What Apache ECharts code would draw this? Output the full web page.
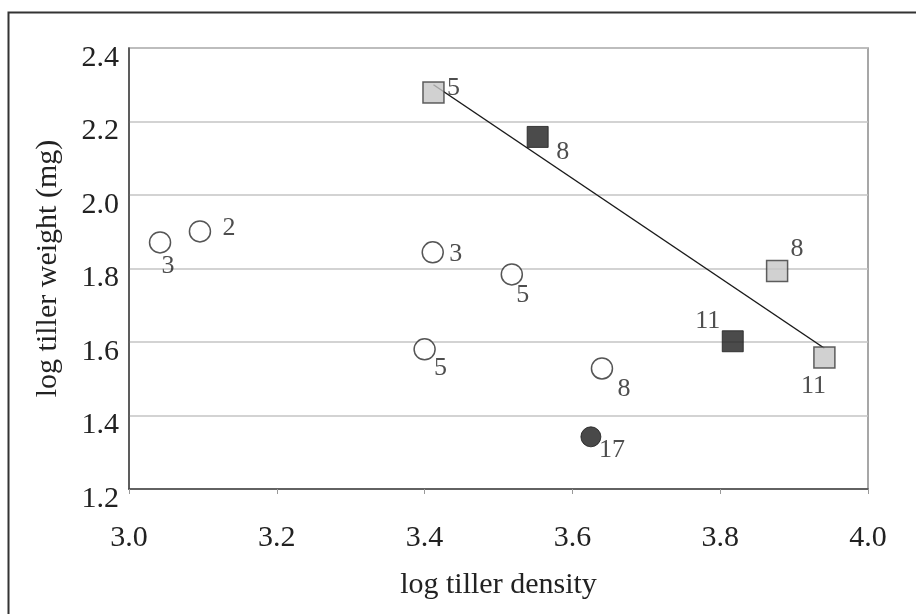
<!DOCTYPE html>
<html><head><meta charset="utf-8">
<script src="https://cdn.jsdelivr.net/npm/echarts@6/dist/echarts.min.js"></script>
<style>html,body{margin:0;padding:0;background:#fff}#c{width:916px;height:614px}</style>
</head><body><div id="c"></div>
<script>
// Data
const openCircles = [[3.042,1.871],[3.096,1.901],[3.411,1.844],[3.518,1.784],[3.400,1.580],[3.640,1.528]];
const openCircleLabels = ['3','2','3','5','5','8'];
const filledCircles = [[3.625,1.342]];
const filledCircleLabels = ['17'];
const graySquares = [[3.412,2.279],[3.877,1.793],[3.941,1.558]];
const graySquareLabels = ['5','8','11'];
const blackSquares = [[3.553,2.158],[3.817,1.602]];
const blackSquareLabels = ['8','11'];
const trendLine = [[3.412,2.300],[3.941,1.583]];
const xTicks = [3.0,3.2,3.4,3.6,3.8,4.0];
const yTicks = [1.2,1.4,1.6,1.8,2.0,2.2,2.4];

// label offsets (style)
const openOff = [[8,24],[29,-3],[23,2],[11,21],[16,19],[22,21]];
const filledOff = [[21,13]];
const grayOff = [[20,-4],[20,-22],[-11,29]];
const blackOff = [[25,15],[-25,-20]];

const FONT = 'Liberation Serif';
function pts(data, labels, offs, size){
  return data.map((d,i)=>({value:d, label:{show:true, formatter:labels[i], position:'inside', offset:offs[i],
    fontFamily:FONT, fontSize:size||26, color:'#222', align:'center', verticalAlign:'middle'}}));
}
const chart = echarts.init(document.getElementById('c'), null, {renderer:'canvas'});
chart.setOption({
  animation:false,
  backgroundColor:'#fff',
  graphic:[{type:'rect', left:6, top:10, shape:{width:930, height:700}, style:{fill:'none', stroke:'#333', lineWidth:2}, z:-10}],
  grid:{left:129, right:48, top:48, bottom:125, show:true, borderColor:'#8a8a8a', borderWidth:1.5, backgroundColor:'transparent'},
  xAxis:{type:'value', min:3.0, max:4.0, interval:0.2,
    name:'log tiller density', nameLocation:'middle', nameGap:81,
    nameTextStyle:{fontFamily:FONT, fontSize:30, color:'#222'},
    axisLine:{lineStyle:{color:'#444', width:1.5}},
    axisTick:{show:true, length:5, lineStyle:{color:'#999', width:1}},
    axisLabel:{fontFamily:FONT, fontSize:30, color:'#222', margin:34, formatter:v=>v.toFixed(1)},
    splitLine:{show:false}},
  yAxis:{type:'value', min:1.2, max:2.4, interval:0.2,
    name:'log tiller weight (mg)', nameLocation:'middle', nameGap:66, nameRotate:90,
    nameTextStyle:{fontFamily:FONT, fontSize:30, color:'#222'},
    axisLine:{show:true, lineStyle:{color:'#444', width:1.5}},
    axisTick:{show:false},
    axisLabel:{fontFamily:FONT, fontSize:30, color:'#222', margin:10, verticalAlign:'top', lineHeight:20, formatter:v=>v.toFixed(1)},
    splitLine:{show:true, lineStyle:{color:'#c4c4c4', width:1.5}}},
  series:[
    {type:'line', data:trendLine, symbol:'none', lineStyle:{color:'#1a1a1a', width:1.5}, z:2, silent:true},
    {type:'scatter', data:pts(openCircles, openCircleLabels, openOff), symbol:'circle', symbolSize:21,
      itemStyle:{color:'#fff', borderColor:'#2a2a2a', borderWidth:1.5}, z:3},
    {type:'scatter', data:pts(filledCircles, filledCircleLabels, filledOff), symbol:'circle', symbolSize:20,
      itemStyle:{color:'#1c1c1c', borderColor:'#1c1c1c', borderWidth:1}, z:3},
    {type:'scatter', data:pts(graySquares, graySquareLabels, grayOff), symbol:'rect', symbolSize:21,
      itemStyle:{color:'#c6c6c6', borderColor:'#3a3a3a', borderWidth:1.5}, z:3},
    {type:'scatter', data:pts(blackSquares, blackSquareLabels, blackOff), symbol:'rect', symbolSize:21,
      itemStyle:{color:'#1e1e1e', borderColor:'#1e1e1e', borderWidth:1}, z:3}
  ]
});
</script></body></html>
